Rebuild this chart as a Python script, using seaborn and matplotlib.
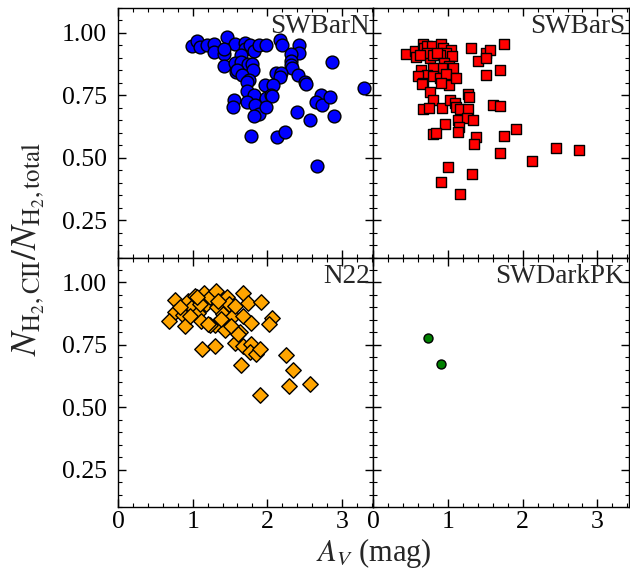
import numpy as np
import pandas as pd
import matplotlib
matplotlib.use("Agg")
import matplotlib.pyplot as plt
import seaborn as sns
from matplotlib.ticker import MultipleLocator

# ---- data ----
swbarn_av = [0.987, 1.058, 1.093, 1.191, 1.280, 1.458, 1.564, 1.707, 1.707, 1.769, 1.822, 1.884, 1.987,
             2.169, 2.196, 2.418, 1.289, 1.422, 1.413, 1.644, 2.427, 2.311, 1.422, 1.564, 1.653, 1.742,
             1.796, 1.813, 1.582, 1.600, 1.662, 1.760, 1.733, 2.311, 2.320, 2.329, 2.409, 2.871, 2.116,
             2.187, 2.169, 1.973, 2.080, 2.498, 2.516, 1.724, 1.822, 1.982, 2.053, 2.062, 3.298, 1.556,
             1.538, 1.733, 1.831, 1.893, 1.822, 1.982, 2.400, 2.578, 2.720, 2.658, 2.729, 2.844, 2.889,
             1.778, 2.133, 2.231, 2.667]
swbarn_f = [0.949, 0.967, 0.944, 0.950, 0.957, 0.983, 0.957, 0.958, 0.934, 0.950, 0.926, 0.952, 0.952,
            0.972, 0.953, 0.953, 0.924, 0.916, 0.937, 0.910, 0.920, 0.916, 0.866, 0.879, 0.883, 0.875,
            0.877, 0.853, 0.842, 0.853, 0.833, 0.813, 0.803, 0.886, 0.873, 0.859, 0.833, 0.882, 0.839,
            0.839, 0.822, 0.790, 0.790, 0.803, 0.795, 0.768, 0.752, 0.739, 0.752, 0.747, 0.779, 0.732,
            0.705, 0.725, 0.712, 0.675, 0.669, 0.705, 0.685, 0.650, 0.752, 0.725, 0.712, 0.742, 0.668,
            0.586, 0.585, 0.602, 0.467]

swbars_av = [0.438, 0.555, 0.573, 0.671, 0.680, 0.716, 0.783, 0.904, 0.931, 1.038, 0.966, 0.886, 0.752,
             0.716, 0.626, 0.796, 0.850, 1.056, 0.940, 1.011, 1.065, 0.922, 0.805, 0.635, 0.716, 0.600,
             0.671, 0.653, 0.805, 0.895, 0.975, 1.011, 1.110, 0.904, 0.761, 0.805, 0.671, 0.743, 0.922,
             1.029, 1.092, 1.101, 1.154, 1.262, 1.280, 1.271, 1.128, 1.253, 1.333, 0.957, 1.145, 1.128,
             0.796, 0.841, 1.306, 1.503, 1.566, 1.405, 1.503, 1.754, 1.691, 1.503, 1.602, 1.700, 1.906,
             1.754, 1.378, 1.342, 1.691, 2.130, 2.443, 2.756, 0.993, 1.324, 0.904, 1.163]
swbars_f = [0.917, 0.926, 0.902, 0.956, 0.940, 0.946, 0.946, 0.956, 0.940, 0.933, 0.920, 0.910, 0.900,
            0.920, 0.913, 0.913, 0.920, 0.906, 0.879, 0.866, 0.859, 0.859, 0.859, 0.853, 0.833, 0.826,
            0.799, 0.795, 0.826, 0.819, 0.835, 0.792, 0.819, 0.799, 0.763, 0.732, 0.696, 0.699, 0.699,
            0.732, 0.719, 0.705, 0.696, 0.755, 0.742, 0.696, 0.652, 0.658, 0.652, 0.634, 0.625, 0.602,
            0.594, 0.601, 0.940, 0.920, 0.932, 0.889, 0.900, 0.956, 0.851, 0.833, 0.712, 0.709, 0.616,
            0.586, 0.583, 0.554, 0.517, 0.487, 0.538, 0.530, 0.464, 0.434, 0.401, 0.353]

n22_av = [0.768, 0.759, 0.688, 0.875, 0.893, 0.938, 0.991, 1.036, 1.071, 1.107, 1.125, 1.152, 1.179,
          1.232, 1.313, 1.330, 1.304, 1.411, 1.455, 1.482, 1.438, 1.545, 1.518, 1.634, 1.679, 1.670,
          1.741, 1.777, 1.911, 2.063, 2.018, 1.571, 1.679, 1.786, 1.768, 1.848, 1.902, 1.125, 1.295,
          1.643, 2.250, 2.348, 2.286, 2.571, 1.902, 1.228, 1.098, 0.826, 1.607, 1.384, 0.960, 1.054,
          1.205, 1.563, 1.339]
n22_f = [0.929, 0.883, 0.846, 0.870, 0.826, 0.926, 0.900, 0.946, 0.879, 0.846, 0.924, 0.956, 0.913,
         0.942, 0.967, 0.900, 0.830, 0.873, 0.942, 0.913, 0.808, 0.866, 0.827, 0.803, 0.956, 0.866,
         0.916, 0.839, 0.922, 0.857, 0.833, 0.759, 0.746, 0.755, 0.723, 0.712, 0.732, 0.735, 0.744,
         0.669, 0.709, 0.649, 0.586, 0.594, 0.549, 0.830, 0.913, 0.900, 0.792, 0.853, 0.866, 0.940,
         0.833, 0.906, 0.926]

swdark_av = [0.738, 0.911]
swdark_f = [0.779, 0.675]

regions = ["SWBarN", "SWBarS", "N22", "SWDarkPK"]
region_av = [swbarn_av, swbars_av, n22_av, swdark_av]
region_f = [swbarn_f, swbars_f, n22_f, swdark_f]
colors = ["blue", "red", "orange", "green"]
markers = ["o", "s", "D", "o"]
sizes = [85, 62, 62, 42]

# ---- style ----
sns.set_style("ticks")
plt.rcParams["font.family"] = ["Liberation Serif", "DejaVu Serif"]
plt.rcParams["mathtext.fontset"] = "stix"

fig, axes = plt.subplots(2, 2, figsize=(6.3, 5.72), dpi=100, sharex=True, sharey=True)
fig.subplots_adjust(left=0.1873, right=0.998, top=0.986, bottom=0.1136, wspace=0, hspace=0)

for i, ax in enumerate(axes.flat):
    df = pd.DataFrame({"AV": region_av[i], "f": region_f[i]})
    sns.scatterplot(data=df, x="AV", y="f", ax=ax, color=colors[i], marker=markers[i],
                    s=sizes[i], edgecolor="black", linewidth=1.0, zorder=3)
    ax.set_xlim(0, 3.42)
    ax.set_ylim(0.1, 1.1)
    ax.set_xlabel("")
    ax.set_ylabel("")
    ax.xaxis.set_major_locator(MultipleLocator(1))
    ax.xaxis.set_minor_locator(MultipleLocator(0.2))
    ax.yaxis.set_major_locator(MultipleLocator(0.25))
    ax.yaxis.set_minor_locator(MultipleLocator(0.05))
    ax.tick_params(which="both", direction="in", top=True, right=True, labelsize=18.5, colors="black")
    ax.tick_params(which="major", length=6, width=1)
    ax.tick_params(which="minor", length=3, width=0.8)
    ax.tick_params(axis="y", which="major", pad=8)
    ax.tick_params(axis="x", which="major", pad=3)
    for sp in ax.spines.values():
        sp.set_visible(True)
        sp.set_color("black")
        sp.set_linewidth(1)
    ax.set_yticks([0.25, 0.5, 0.75, 1.0])
    ax.set_yticklabels(["0.25", "0.50", "0.75", "1.00"])
    ax.text(0.985, 0.975, regions[i], transform=ax.transAxes, ha="right", va="top", fontsize=19.5)

fig.text(0.045, 0.565, r"$N_{\rm H_2,CII}/N_{\rm H_2,total}$", rotation=90, ha="center", va="center",
         fontsize=25.5)
fig.text(0.593, 0.034, r"$A_V$ (mag)", ha="center", va="center", fontsize=22)

fig.savefig("out.png", dpi=100)
